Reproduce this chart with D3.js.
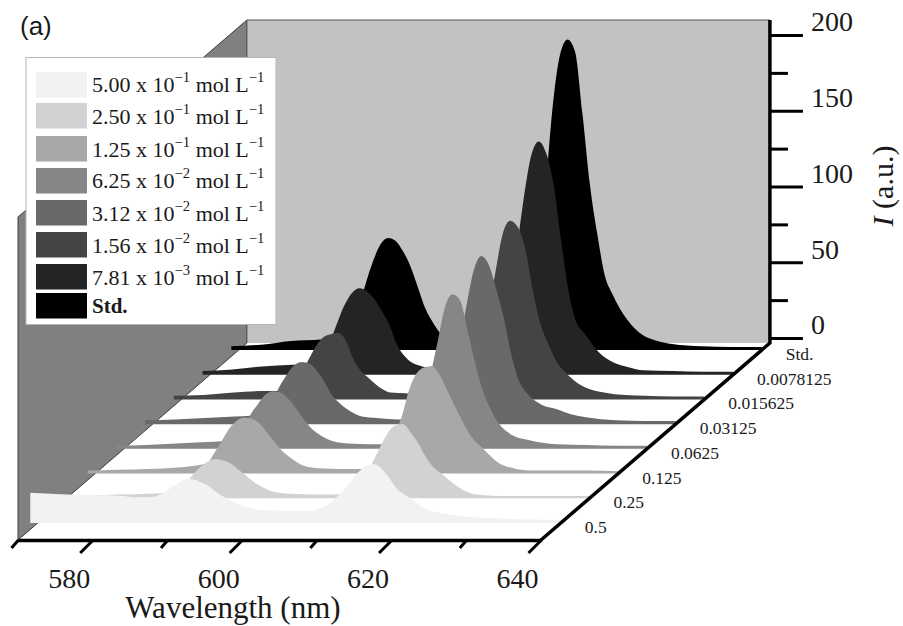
<!DOCTYPE html>
<html lang="en">
<head>
	<meta charset="utf-8">
	<title>Emission spectra</title>
	<script src="https://d3js.org/d3.v7.min.js"></script>
	<style>
		html, body { margin: 0; padding: 0; background: #fff; }
		svg { display: block; }
		text { font-family: "Liberation Serif", serif; fill: #1a1a1a; }
	</style>
</head>
<body>
	<div id="graph"></div>
	<script type="text/javascript">
		// wavelength grid (nm), denser around the two emission bands
		const wavelengths = [569,573,577,581,583,585,586,587,588,589,590,591,592,593,594,595,596,597,598,600,603,606,609,610,611,612,613,614,615,616,617,618,619,620,622,624,626,628,632,636,640];

		// intensities, front ribbon first
		const conc_05 = [20,19,18.5,18,17,17,18,20.5,24,27,29,28.5,26.5,24,20,17,14.5,12,10.5,8.5,8,8,12.5,17,22,28,34,38,39,36,30,23,19,16,9,6.5,5,4,3,2.3,2];
		const conc_025 = [1.5,2,2.5,3,3.5,5,10,16,21,24.5,26,25,23,19,15,11,8,5.5,4,3,2.5,2.5,10,16,24,34,43,48,49,44,37,28,21,17,9,3.5,2,1.5,1.5,1.5,1.5];
		const conc_0125 = [2,2.5,3,4,5,7,14,22,30,35,37,36,33,27,21,15,11,7.5,5,3.5,3,3,14,26,37,55,66,70,71,66,56,46,36,27,16,7,3.5,2,2,2,1.5];
		const conc_00625 = [2,2.5,3.5,4.5,5,7,14,23,30,36,38,37,33,27,20,14,10,7,5,3.5,3,3,10,25,48,71,94,102,98,78,57,39,27,18,9,6,4,3,2.5,2,2];
		const conc_003125 = [2.5,3,4,5,5.5,7.5,15,25,33,39,41,40,35,28,19,14,10,7,5,4,3,3,11,28,52,78,102,111,105,89,70,46,29,21,13,10,6.5,4.5,2.5,2,2];
		const conc_0015625 = [2.5,3,4.5,5.5,5.5,8,16,26,35,41,43,44,39,27,19,14.5,10,6.5,4.5,4,3,3,12,30,55,83,109,118,114,100,73,51,38,27,15,8,5,3.5,2.5,2,2];
		const conc_00078125 = [2.5,3.5,5.5,6.5,7,11,21,34,46,54,57,55,50,42,33,20,12.5,8,6,4,3.5,4,15,38,80,117,145,154,146,125,88,55,35,28,15,8,5,3,2.5,2,2];
		const conc_std = [2.5,3.5,6,7,8,14,27,44,59,70,74,72,65,55,41,27,18,11,8,6,4,5,20,45,102,160,195,205,197,156,109,76,49,37,20,10,6,4,2.5,2,2];

		const seriesValues = [conc_05, conc_025, conc_0125, conc_00625, conc_003125, conc_0015625, conc_00078125, conc_std];
		const depthLabels = ["0.5", "0.25", "0.125", "0.0625", "0.03125", "0.015625", "0.0078125", "Std."];
		const seriesColors = ["#f2f2f2", "#d2d2d2", "#a8a8a8", "#868686", "#696969", "#444444", "#242424", "#000000"];

		// legend rows, top to bottom
		const legendMantissa = ["5.00", "2.50", "1.25", "6.25", "3.12", "1.56", "7.81"];
		const legendExponent = ["\u22121", "\u22121", "\u22121", "\u22122", "\u22122", "\u22122", "\u22123"];

		const xTicks = [570, 580, 590, 600, 610, 620, 630, 640];
		const xLabels = [580, 600, 620, 640];
		const yTicks = [0, 25, 50, 75, 100, 125, 150, 175, 200];
		const yLabels = [0, 50, 100, 150, 200];

		const width = 903, height = 626;
		const floorY = 540, backY = 343, topY = 20;
		const skew = 1.162; // px to the right per px of depth

		const svg = d3.select("#graph").append("svg")
			.attr("width", width)
			.attr("height", height);

		const x = d3.scaleLinear().domain([570, 640]).range([18, 541]);
		const y = d3.scaleLinear().domain([0, 200]).range([338, 35]);
		const depth = d3.scalePoint().domain(depthLabels).range([523, 350]);
		const shift = base => (floorY - base) * skew;

		const backLeft = x(570) + shift(backY), backRight = x(640) + shift(backY);
		const wallTop = topY + (floorY - backY);

		// walls
		svg.append("path")
			.attr("d", d3.line()([[x(570), floorY], [backLeft, backY], [backLeft, topY], [x(570), wallTop]]) + "Z")
			.attr("fill", "#808080")
			.attr("stroke", "#3c3c3c")
			.attr("stroke-width", 1);
		svg.append("rect")
			.attr("x", backLeft)
			.attr("y", topY)
			.attr("width", backRight - backLeft)
			.attr("height", backY - topY)
			.attr("fill", "#c2c2c2");
		svg.append("path")
			.attr("d", d3.line()([[backRight, topY], [backLeft, topY], [backLeft, backY]]))
			.attr("fill", "none")
			.attr("stroke", "#555")
			.attr("stroke-width", 1);

		// ribbons, back to front so the near ones cover the far ones
		const area = d3.area()
			.x((d, i) => x(wavelengths[i]))
			.y0(0)
			.y1(d => y(d) - y(0))
			.curve(d3.curveMonotoneX);

		svg.selectAll(".ribbon")
			.data(depthLabels.map((label, i) => ({ label: label, values: seriesValues[i], color: seriesColors[i] })).reverse())
			.enter()
			.append("path")
			.attr("class", "ribbon")
			.attr("transform", d => "translate(" + shift(depth(d.label)) + "," + depth(d.label) + ")")
			.attr("d", d => area(d.values))
			.attr("fill", d => d.color);

		// wavelength axis, ticks lean along the depth direction
		const xAxis = svg.append("g")
			.attr("transform", "translate(0," + floorY + ")")
			.call(d3.axisBottom(x).tickValues(xTicks).tickSizeOuter(0).tickFormat(d => xLabels.includes(d) ? d : ""));
		xAxis.select(".domain").attr("stroke", "#000").attr("stroke-width", 3.5);
		xAxis.selectAll(".tick line")
			.attr("stroke", "#000")
			.attr("stroke-width", 3)
			.attr("x2", d => xLabels.includes(d) ? -13 : -7)
			.attr("y2", d => xLabels.includes(d) ? 13 : 8);
		xAxis.selectAll(".tick text")
			.attr("x", -24)
			.attr("y", 47.5)
			.attr("dy", 0)
			.attr("font-family", "Liberation Serif")
			.attr("font-size", 28);

		// depth axis
		svg.append("line")
			.attr("x1", x(640))
			.attr("y1", floorY)
			.attr("x2", backRight)
			.attr("y2", backY)
			.attr("stroke", "#000")
			.attr("stroke-width", 3.5);
		svg.selectAll(".depth-label")
			.data(depthLabels)
			.enter()
			.append("text")
			.attr("class", "depth-label")
			.attr("x", d => x(640) + shift(depth(d)) + 24)
			.attr("y", d => depth(d) + 10)
			.attr("font-size", 17.5)
			.attr("fill", "#333")
			.text(d => d);

		// intensity axis
		const yAxis = svg.append("g")
			.attr("transform", "translate(" + backRight + ",0)")
			.call(d3.axisRight(y).tickValues(yTicks).tickSizeOuter(0).tickFormat(d => yLabels.includes(d) ? d : ""));
		yAxis.select(".domain").remove();
		yAxis.append("line")
			.attr("y1", topY)
			.attr("y2", backY + 1)
			.attr("stroke", "#000")
			.attr("stroke-width", 3.5);
		yAxis.selectAll(".tick line")
			.attr("stroke", "#000")
			.attr("stroke-width", 3)
			.attr("x2", d => yLabels.includes(d) ? 33 : 18);
		yAxis.selectAll(".tick text")
			.attr("x", 41)
			.attr("y", -13)
			.attr("text-anchor", "start")
			.attr("font-family", "Liberation Serif")
			.attr("font-size", 28);

		// axis titles
		svg.append("text")
			.attr("x", 233)
			.attr("y", 618)
			.attr("text-anchor", "middle")
			.attr("font-size", 31)
			.text("Wavelength (nm)");
		const yTitle = svg.append("text")
			.attr("transform", "translate(893,186) rotate(-90)")
			.attr("text-anchor", "middle")
			.attr("font-size", 30);
		yTitle.append("tspan").attr("font-style", "italic").text("I");
		yTitle.append("tspan").text(" (a.u.)");

		svg.append("text")
			.attr("x", 20)
			.attr("y", 35)
			.attr("font-size", 26)
			.style("font-family", "'Liberation Sans', sans-serif")
			.text("(a)");

		// legend
		const legendTop = [72, 103, 136, 168, 200, 232, 264, 293];
		const legendBase = [92, 124, 157, 188, 221, 253, 285, 313];
		svg.append("rect")
			.attr("x", 26)
			.attr("y", 57.5)
			.attr("width", 250)
			.attr("height", 267)
			.attr("fill", "#fff")
			.attr("stroke", "#b5b5b5")
			.attr("stroke-width", 1);
		svg.selectAll(".swatch")
			.data(seriesColors)
			.enter()
			.append("rect")
			.attr("class", "swatch")
			.attr("x", 36)
			.attr("y", (d, i) => legendTop[i])
			.attr("width", 51)
			.attr("height", 25.5)
			.attr("fill", d => d);

		const rows = svg.selectAll(".legend-text")
			.data(legendMantissa)
			.enter()
			.append("text")
			.attr("class", "legend-text")
			.attr("x", 92)
			.attr("y", (d, i) => legendBase[i])
			.attr("font-size", 22);
		rows.append("tspan").text(d => d + " x 10");
		rows.append("tspan").attr("dy", -10).attr("font-size", 14.7).text((d, i) => legendExponent[i]);
		rows.append("tspan").attr("dy", 10).text(" mol L");
		rows.append("tspan").attr("dy", -10).attr("font-size", 14.7).text("\u22121");
		svg.append("text")
			.attr("x", 92)
			.attr("y", legendBase[7])
			.attr("font-size", 21)
			.attr("font-weight", "bold")
			.text("Std.");
	</script>
</body>
</html>
